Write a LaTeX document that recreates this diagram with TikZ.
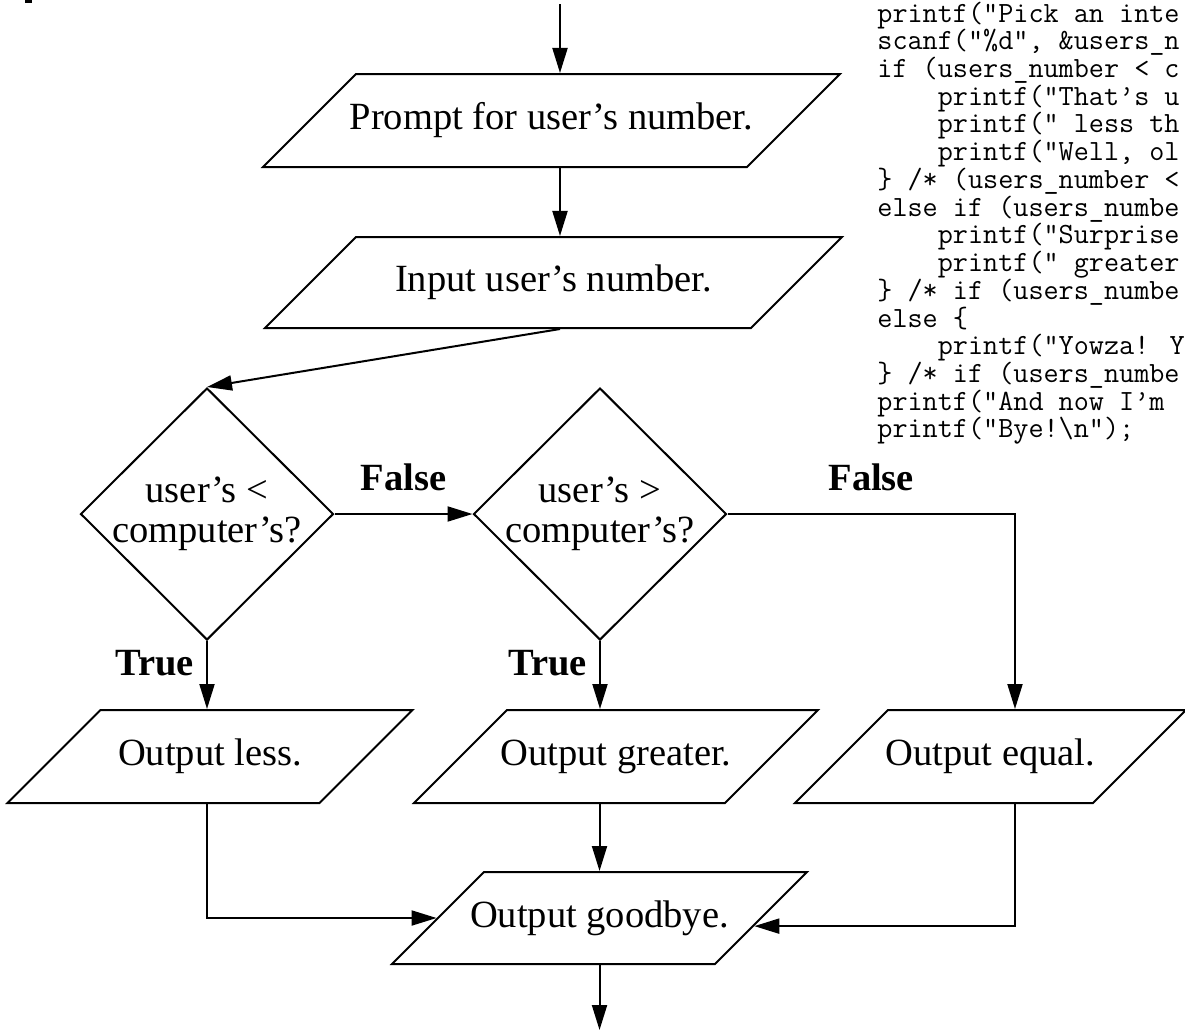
\documentclass[tikz,border=0pt]{standalone}
\usepackage{fontspec}
\setmainfont{Liberation Serif}
\usetikzlibrary{calc, positioning, shapes.geometric, arrows.meta}
\newcommand{\boxfont}{\fontsize{19.25pt}{20pt}\selectfont}
\newcommand{\listfont}{\ttfamily\fontsize{14.67pt}{14pt}\selectfont}
\newcommand{\ind}{\hphantom{xxxx}}

\begin{document}
\begin{tikzpicture}[x=0.5pt, y=-0.5pt,
  io/.style={trapezium, trapezium left angle=45, trapezium right angle=135,
    trapezium stretches body=true, draw, line width=1pt, inner xsep=-10pt,
    text height=13.5pt, text depth=4.5pt, inner ysep=14.25pt, font=\boxfont},
  decision/.style={diamond, draw, line width=1pt, inner sep=-5pt, align=center,
    minimum width=126.5pt, minimum height=126pt, font=\boxfont},
  flow/.style={line width=1pt, -{Triangle[length=12.5pt, width=7.5pt]}},
  branch/.style={font=\boxfont\bfseries, inner sep=0pt},
  code/.style={font=\listfont, anchor=base west, inner sep=0pt}]
  \useasboundingbox (0,0) rectangle (1185,1030);
  \fill (25,0) rectangle (32,2.5);

  % flowchart
  \node[io, minimum width=288.5pt] (prompt) at (551.5,120.5) {Prompt for user's number.};
  \node[io, minimum width=288.5pt, inner ysep=13.75pt] (input) at (553.5,282.5) {Input user's number.};
  \node[decision] (lesstest) at (207,514) {user's <\\computer's?};
  \node[decision] (greatertest) at (600,514) {user's >\\computer's?};
  \node[io, minimum width=202.5pt] (less) at (210,756.5) {Output less.};
  \node[io, minimum width=202pt] (greater) at (616,756.5) {Output greater.};
  \node[io, minimum width=195.5pt] (equal) at (990.5,756.5) {Output equal.};
  \node[io, minimum width=207.5pt, inner ysep=14pt] (bye) at (599.5,918) {Output goodbye.};

  \coordinate (entry) at (560,4);
  \coordinate (exit) at (600,1030);
  \coordinate (eqcol) at (1015,514);

  \draw[flow] (entry) -- (entry |- prompt.north);
  \draw[flow] (entry |- prompt.south) -- (entry |- input.north);
  \draw[flow] (entry |- input.south) -- (lesstest.north);
  \draw[flow] (lesstest.east) -- node[branch, above=11pt] {False} (greatertest.west);
  \draw[flow] (greatertest.east) -| node[branch, pos=0.25, above=11pt] {False} (eqcol |- equal.north);
  \draw[flow] (lesstest.south) -- node[branch, pos=0.33, left=6pt] {True} (lesstest.south |- less.north);
  \draw[flow] (greatertest.south) -- node[branch, pos=0.33, left=6pt] {True} (greatertest.south |- greater.north);
  \draw[flow] (lesstest.south |- less.south) |- (bye);
  \draw[flow] (bye.north |- greater.south) -- (bye.north);
  \draw[flow] (eqcol |- equal.south) |- (bye.-3.4);
  \draw[flow] (bye.south) -- (bye.south |- exit);

  % listing
  \foreach \ln [count=\k from 0] in {
      {printf("Pick an inte},
      {scanf("\%d", \&users\_n},
      {if (users\_number < c},
      {\ind printf("That’s u},
      {\ind printf(“ less th},
      {\ind printf("Well, ol},
      {\} /* (users\_number <},
      {else if (users\_numbe},
      {\ind printf("Surprise},
      {\ind printf(" greater},
      {\} /* if (users\_numbe},
      {else \{},
      {\ind printf("Yowza! Y},
      {\} /* if (users\_numbe},
      {printf("And now I’m},
      {printf("Bye!\textbackslash n");}} {
    \node[code] (line\k) at (877,{22+27.73*\k}) {\ln};
  }
\end{tikzpicture}
\end{document}
